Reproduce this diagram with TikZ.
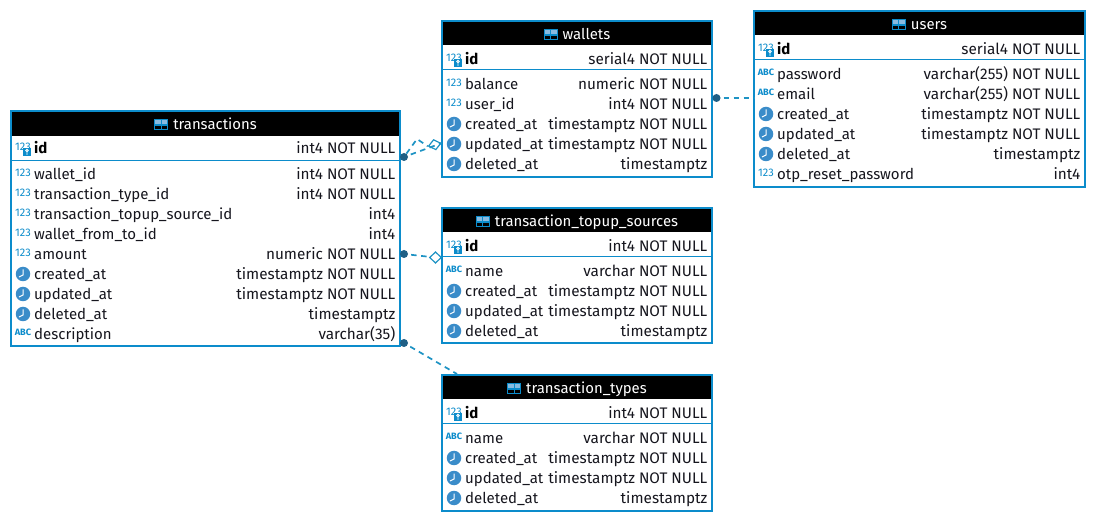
\documentclass[tikz,border=0pt]{standalone}
\usepackage{fontspec}
\setmainfont{Fira Sans}
\usetikzlibrary{shapes.geometric}
\definecolor{erblue}{HTML}{0C8CCB}
\definecolor{ericon}{HTML}{3A8CC9}
\definecolor{erdot}{HTML}{1F5F85}
\definecolor{ertext}{HTML}{16161E}
\definecolor{erlink}{HTML}{1E93C4}
\newcount\rowcnt
\tikzset{
  tbl/.style={draw=erblue,line width=2pt,fill=white,inner sep=0pt,outer sep=0pt},
  head/.style={fill=black},
  sepline/.style={draw=erblue,line width=1pt},
  title/.style={text=white,anchor=base,inner sep=0pt,font=\fontsize{14.9}{15}\selectfont},
  lab/.style={text=ertext,anchor=base west,inner sep=0pt,font=\fontsize{15}{15}\selectfont},
  keylab/.style={text=black,anchor=base west,inner sep=0pt,font=\fontsize{15}{15}\bfseries\selectfont},
  typ/.style={text=ertext,anchor=base east,inner sep=0pt,font=\fontsize{15.3}{15}\selectfont},
  numi/.style={text=erblue,anchor=center,inner sep=0pt,font=\fontsize{11}{11}\selectfont},
  abci/.style={text=erblue,anchor=center,inner sep=0pt,font=\fontsize{9.2}{9}\bfseries\selectfont},
  clocki/.style={circle,fill=ericon,minimum size=14.5pt,inner sep=0pt},
  dotn/.style={circle,fill=erdot,minimum size=8pt,inner sep=0pt},
  diam/.style={diamond,draw=erlink,fill=white,line width=1.2pt,minimum width=12pt,minimum height=11.5pt,inner sep=0pt},
  diamw/.style={diam,minimum width=13pt,minimum height=10.5pt},
  rel/.style={draw=erlink,line width=1.7pt,dash pattern=on 5.5pt off 4.5pt,dash phase=7pt},
}
% \tablebox{name}{x1}{y1}{x2}{y2}{header bottom}{sep}{title}
\newcommand{\tablebox}[8]{%
  \pgfmathsetmacro{\boxw}{#4-#2}\pgfmathsetmacro{\boxh}{#5-#3}%
  \pgfmathsetmacro{\cx}{(#2+#4)/2}\pgfmathsetmacro{\cy}{(#3+#5)/2}%
  \node[tbl,minimum width=\boxw pt,minimum height=\boxh pt] (#1) at (\cx,\cy) {};
  \fill[head] (#2,#3) rectangle (#4,#6);
  \draw[sepline] (#2,#7) -- (#4,#7);
  \draw[erblue,line width=2pt] (#2,#3) rectangle (#4,#5);
  \pgfmathsetmacro{\ty}{#3+18.7}\pgfmathsetmacro{\tx}{\cx+9.5}%
  \node[title] (#1-title) at (\tx,\ty) {#8};
  \begin{scope}[shift={(#1-title.base west)}]
    \fill[erblue] (-19,-11) rectangle (-5,0.5);
    \fill[ericon!60!white] (-18,-9.5) rectangle (-12.5,-6);
    \fill[ericon!60!white] (-11.5,-9.5) rectangle (-6,-6);
    \fill[black] (-18,-4) rectangle (-12.5,-0.7);
    \fill[black] (-11.5,-4) rectangle (-6,-0.7);
  \end{scope}
}
% icons at (x,y): x table left, y row centre
\newcommand{\iconnum}[2]{\pgfmathsetmacro{\ix}{#1+12}\pgfmathsetmacro{\iy}{#2-1.3}%
  \global\advance\rowcnt by 1
  \node[numi] (i\the\rowcnt) at (\ix,\iy) {123};}
\newcommand{\iconabc}[2]{\pgfmathsetmacro{\ix}{#1+12}\pgfmathsetmacro{\iy}{#2-1.5}%
  \global\advance\rowcnt by 1
  \node[abci] (i\the\rowcnt) at (\ix,\iy) {ABC};}
\newcommand{\iconclock}[2]{\pgfmathsetmacro{\ix}{#1+12}%
  \global\advance\rowcnt by 1
  \node[clocki] (i\the\rowcnt) at (\ix,#2) {};
  \draw[white,line width=1pt] (\ix,#2-4.5) -- (\ix,#2+1) -- (\ix-4,#2+3);}
\newcommand{\iconkey}[2]{\pgfmathsetmacro{\ix}{#1+12}\pgfmathsetmacro{\iy}{#2-1}%
  \global\advance\rowcnt by 1
  \node[numi] (i\the\rowcnt) at (\ix,\iy) {123};
  \fill[erblue] (\ix,#2) rectangle (\ix+8,#2+8);
  \draw[white,line width=.9pt] (\ix+4,#2+2.5) circle (1.3pt) (\ix+4,#2+4) -- (\ix+4,#2+7);}
% \rowent{style}{icon}{left}{right}{y}{label}{type}
\newcommand{\rowent}[7]{%
  \csname icon#2\endcsname{#3}{#5}%
  \pgfmathsetmacro{\lx}{#3+23}\pgfmathsetmacro{\rx}{#4-4.5}\pgfmathsetmacro{\by}{#5+5.5}%
  \global\advance\rowcnt by 1
  \node[#1] (l\the\rowcnt) at (\lx,\by) {#6};
  \node[typ] (t\the\rowcnt) at (\rx,\by) {#7};}
\begin{document}
\begin{tikzpicture}[x=1pt,y=-1pt]
\useasboundingbox (0,0) rectangle (1096,521);
\fill[white] (0,0) rectangle (1096,521);
% transactions
\tablebox{transactions}{11}{111}{400}{346}{136}{160.5}{transactions}
\rowent{keylab}{key}{11}{400}{148}{id}{int4 NOT NULL}
\rowent{lab}{num}{11}{400}{174}{wallet\_id}{int4 NOT NULL}
\rowent{lab}{num}{11}{400}{194}{transaction\_type\_id}{int4 NOT NULL}
\rowent{lab}{num}{11}{400}{214}{transaction\_topup\_source\_id}{int4}
\rowent{lab}{num}{11}{400}{234}{wallet\_from\_to\_id}{int4}
\rowent{lab}{num}{11}{400}{254}{amount}{numeric NOT NULL}
\rowent{lab}{clock}{11}{400}{274}{created\_at}{timestamptz NOT NULL}
\rowent{lab}{clock}{11}{400}{294}{updated\_at}{timestamptz NOT NULL}
\rowent{lab}{clock}{11}{400}{314}{deleted\_at}{timestamptz}
\rowent{lab}{abc}{11}{400}{334}{description}{varchar(35)}
% wallets
\tablebox{wallets}{442}{21}{712}{177}{45.5}{70}{wallets}
\rowent{keylab}{key}{442}{712}{59}{id}{serial4 NOT NULL}
\rowent{lab}{num}{442}{712}{84}{balance}{numeric NOT NULL}
\rowent{lab}{num}{442}{712}{104}{user\_id}{int4 NOT NULL}
\rowent{lab}{clock}{442}{712}{124}{created\_at}{timestamptz NOT NULL}
\rowent{lab}{clock}{442}{712}{144}{updated\_at}{timestamptz NOT NULL}
\rowent{lab}{clock}{442}{712}{164}{deleted\_at}{timestamptz}
% users
\tablebox{users}{754}{11}{1085}{187}{35.5}{60}{users}
\rowent{keylab}{key}{754}{1085}{49}{id}{serial4 NOT NULL}
\rowent{lab}{abc}{754}{1085}{74}{password}{varchar(255) NOT NULL}
\rowent{lab}{abc}{754}{1085}{94}{email}{varchar(255) NOT NULL}
\rowent{lab}{clock}{754}{1085}{114}{created\_at}{timestamptz NOT NULL}
\rowent{lab}{clock}{754}{1085}{134}{updated\_at}{timestamptz NOT NULL}
\rowent{lab}{clock}{754}{1085}{154}{deleted\_at}{timestamptz}
\rowent{lab}{num}{754}{1085}{174}{otp\_reset\_password}{int4}
% topup
\tablebox{topup}{442}{208}{712}{343.5}{232.5}{257}{transaction\_topup\_sources}
\rowent{keylab}{key}{442}{712}{246}{id}{int4 NOT NULL}
\rowent{lab}{abc}{442}{712}{271}{name}{varchar NOT NULL}
\rowent{lab}{clock}{442}{712}{291}{created\_at}{timestamptz NOT NULL}
\rowent{lab}{clock}{442}{712}{311}{updated\_at}{timestamptz NOT NULL}
\rowent{lab}{clock}{442}{712}{331}{deleted\_at}{timestamptz}
% types
\tablebox{types}{442}{375}{712}{511}{399.5}{424}{transaction\_types}
\rowent{keylab}{key}{442}{712}{413}{id}{int4 NOT NULL}
\rowent{lab}{abc}{442}{712}{438}{name}{varchar NOT NULL}
\rowent{lab}{clock}{442}{712}{458}{created\_at}{timestamptz NOT NULL}
\rowent{lab}{clock}{442}{712}{478}{updated\_at}{timestamptz NOT NULL}
\rowent{lab}{clock}{442}{712}{498}{deleted\_at}{timestamptz}
% connectors
\coordinate (bendw) at (417,139);
\node[dotn] (dw) at (404,157) {};
\node[diamw,rotate=13] (dmw) at (434.7,144.7) {};
\draw[rel,dash phase=0pt] (dw) -- (bendw) -- (dmw.west);
\draw[rel] (dw) -- (dmw.east);
\node[dotn] (dt) at (404,254) {};
\node[diam] (dmt) at (435.5,257.5) {};
\draw[rel] (dt) -- (dmt);
\node[dotn] (dty) at (404,343) {};
\coordinate (ty) at (457,374);
\draw[rel] (dty) -- (ty);
\node[dotn] (du) at (716.5,98) {};
\draw[rel] (du) -- (users.west |- du);
\end{tikzpicture}
\end{document}
